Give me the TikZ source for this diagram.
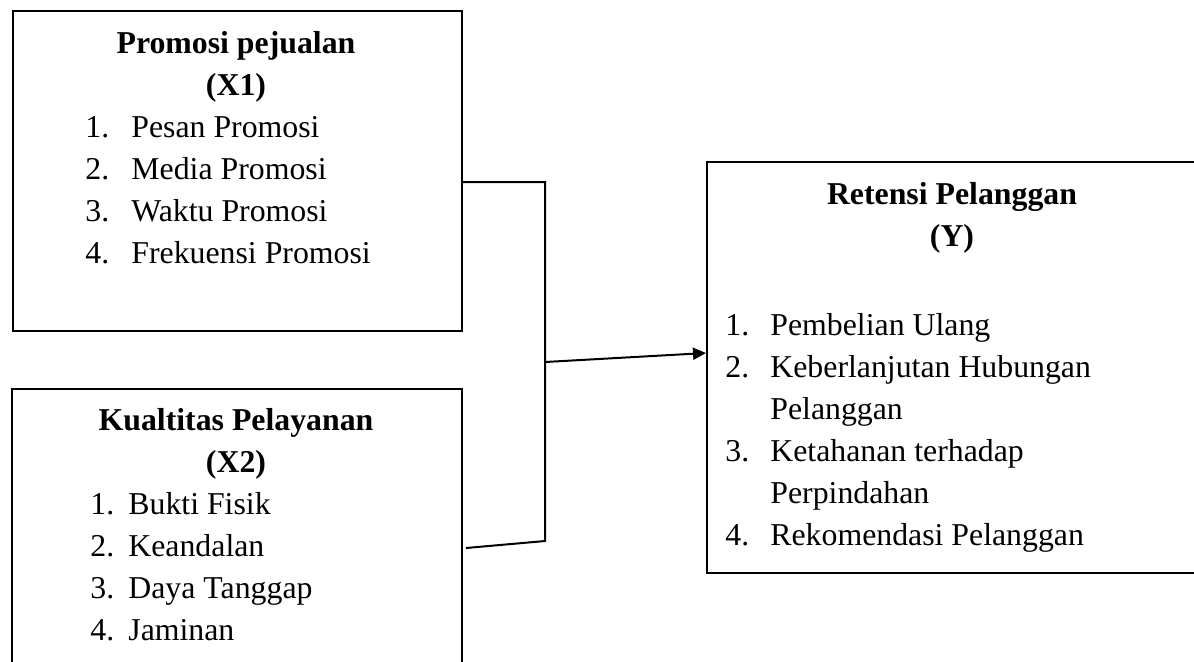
\documentclass[tikz,border=0pt]{standalone}
\usepackage{fontspec}
\setmainfont{Liberation Serif}
\usetikzlibrary{arrows.meta}
\begin{document}
\begin{tikzpicture}[x=0.5pt,y=-0.5pt,
  box/.style={draw,line width=1pt,inner sep=0pt,anchor=north west},
  txt/.style={inner sep=0pt,font=\fontsize{15.9}{19}\selectfont,anchor=base west},
  ttl/.style={inner sep=0pt,font=\fontsize{15.9}{19}\selectfont\bfseries,anchor=base},
  conn/.style={line width=1pt}]
\clip (0,0) rectangle (1194,661);
\fill[white] (0,0) rectangle (1194,661);
% boxes
\node[box,minimum width=224.5pt,minimum height=160pt] (x1) at (12,10) {};
\node[box,minimum width=225pt,minimum height=156pt] (x2) at (11,388) {};
\node[box,minimum width=247pt,minimum height=205.5pt] (yb) at (706,161) {};
% X1 text
\node[ttl] (x1t) at (236,53) {Promosi pejualan};
\node[ttl] (x1s) at (236,95) {(X1)};
\node[txt] (a1n) at (85,137) {1.};
\node[txt] (a1) at (131,137) {Pesan Promosi};
\node[txt] (a2n) at (85,179) {2.};
\node[txt] (a2) at (131,179) {Media Promosi};
\node[txt] (a3n) at (85,221) {3.};
\node[txt] (a3) at (131,221) {Waktu Promosi};
\node[txt] (a4n) at (85,263) {4.};
\node[txt] (a4) at (131,263) {Frekuensi Promosi};
% X2 text
\node[ttl] (x2t) at (236,430) {Kualtitas Pelayanan};
\node[ttl] (x2s) at (236,472) {(X2)};
\node[txt] (b1n) at (90,514) {1.};
\node[txt] (b1) at (128,514) {Bukti Fisik};
\node[txt] (b2n) at (90,556) {2.};
\node[txt] (b2) at (128,556) {Keandalan};
\node[txt] (b3n) at (90,598) {3.};
\node[txt] (b3) at (128,598) {Daya Tanggap};
\node[txt] (b4n) at (90,640) {4.};
\node[txt] (b4) at (128,640) {Jaminan};
% Y text
\node[ttl] (yt) at (952,204) {Retensi Pelanggan};
\node[ttl] (ys) at (952,246) {(Y)};
\node[txt] (c1n) at (725,335) {1.};
\node[txt] (c1) at (770,335) {Pembelian Ulang};
\node[txt] (c2n) at (725,377) {2.};
\node[txt] (c2) at (770,377) {Keberlanjutan Hubungan};
\node[txt] (c2b) at (770,419) {Pelanggan};
\node[txt] (c3n) at (725,461) {3.};
\node[txt] (c3) at (770,461) {Ketahanan terhadap};
\node[txt] (c3b) at (770,503) {Perpindahan};
\node[txt] (c4n) at (725,545) {4.};
\node[txt] (c4) at (770,545) {Rekomendasi Pelanggan};
% connectors
\coordinate (j1) at (545,182);
\coordinate (j2) at (545,541);
\coordinate (s2) at (466,548);
\coordinate (jm) at (545,362);
\coordinate (t) at (706,353);
\draw[conn] (x1.east |- j1) -- (j1) -- (j2) -- (s2);
\draw[conn,-{Triangle[length=6.5pt,width=6pt]}] (jm) -- (yb.west |- t);
\end{tikzpicture}
\end{document}
